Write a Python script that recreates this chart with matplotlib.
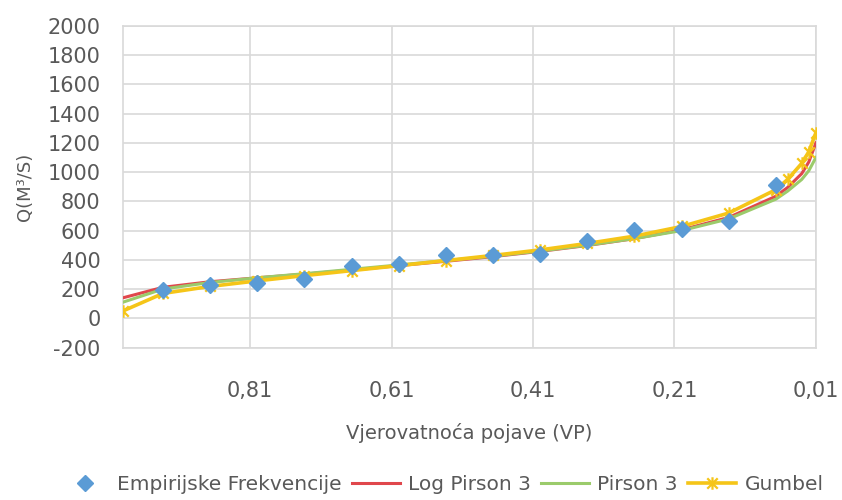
import matplotlib
matplotlib.use("Agg")
import matplotlib.pyplot as plt
from matplotlib.path import Path
import numpy as np

plt.rcParams['axes.unicode_minus'] = False

# empirijske frekvencije (Weibull p = m/(n+1), n = 14)
p_emp = [14/15, 13/15, 12/15, 11/15, 10/15, 9/15, 8/15, 7/15, 6/15, 5/15, 4/15, 3/15, 2/15, 1/15]
q_emp = [192, 225, 242, 272, 358, 372, 430, 434, 440, 532, 603, 612, 664, 915]

# teorijske raspodjele
p_teor = [0.99, 14/15, 13/15, 12/15, 11/15, 10/15, 9/15, 8/15, 7/15, 6/15, 5/15, 4/15, 3/15, 2/15, 1/15, 0.05, 0.03, 0.02, 0.01]
q_logp3 = [140, 212, 250, 277, 302, 330, 360, 390, 422, 458, 498, 545, 605, 690, 835, 895, 990, 1070, 1200]
q_p3 = [110, 200, 245, 277, 305, 335, 365, 395, 425, 460, 500, 545, 600, 680, 815, 870, 950, 1010, 1100]
q_gumbel = [50, 170, 218, 256, 292, 326, 360, 395, 430, 468, 512, 562, 628, 720, 880, 950, 1060, 1140, 1270]

xticks = [0.81, 0.61, 0.41, 0.21, 0.01]
yticks = list(range(-200, 2001, 200))

gray = '#595959'
grid_c = '#D9D9D9'

# excel-ov "star" marker: X + okomita crta
star = Path([(-1, -1), (1, 1), (-1, 1), (1, -1), (0, -1.2), (0, 1.2)],
            [Path.MOVETO, Path.LINETO, Path.MOVETO, Path.LINETO, Path.MOVETO, Path.LINETO])

fig = plt.figure(figsize=(8.42, 5.0), dpi=100)
ax = fig.add_axes([0.146, 0.305, 0.823, 0.643])

ax.plot(p_teor, q_logp3, color='#E0474C', lw=2.2, label='Log Pirson 3', zorder=3)
ax.plot(p_teor, q_p3, color='#9BCB6B', lw=2.2, label='Pirson 3', zorder=3)
ax.plot(p_teor, q_gumbel, color='#F5C518', lw=2.6, marker=star, ms=9, mew=1.6,
        label='Gumbel', zorder=4)
ax.plot(p_emp, q_emp, ls='none', marker='D', ms=8, color='#5B9BD5',
        label='Empirijske Frekvencije', zorder=5)

ax.set_xlim(0.99, 0.01)
ax.set_ylim(-200, 2000)
ax.set_xticks(xticks)
ax.set_xticklabels([('%.2f' % v).replace('.', ',') for v in xticks])
ax.set_yticks(yticks)
ax.grid(True, color=grid_c, lw=1.2)
ax.set_axisbelow(True)
for s in ax.spines.values():
    s.set_color(grid_c)
    s.set_linewidth(1.2)
ax.tick_params(length=0, colors=gray, labelsize=15)
ax.tick_params(axis='x', pad=24)
ax.tick_params(axis='y', pad=16)

ax.set_xlabel('Vjerovatnoća pojave (VP)', color=gray, fontsize=14, labelpad=16)
ax.set_ylabel('Q(M³/S)', color=gray, fontsize=13, labelpad=10)

h, l = ax.get_legend_handles_labels()
order = [3, 0, 1, 2]
fig.legend([h[i] for i in order], [l[i] for i in order], loc='center',
           bbox_to_anchor=(0.525, 0.03), ncol=4, frameon=False, fontsize=14.5,
           labelcolor=gray, handlelength=2.4, columnspacing=0.5, handletextpad=0.4)

fig.savefig('out.png', dpi=100)
